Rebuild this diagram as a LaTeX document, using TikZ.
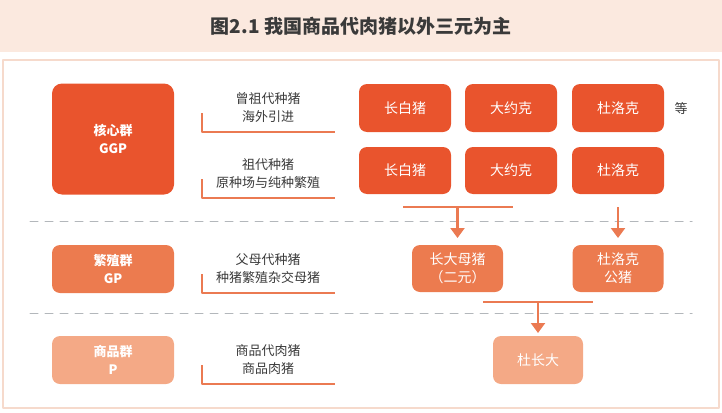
\documentclass[tikz,border=0pt]{standalone}
\usepackage{fontspec}
\setmainfont{Noto Sans CJK SC}
\usetikzlibrary{arrows.meta}
\definecolor{hexin}{HTML}{E9542D}
\definecolor{fanzhi}{HTML}{EC7B4F}
\definecolor{shangpin}{HTML}{F4A986}
\definecolor{xian}{HTML}{EB7A52}
\definecolor{xuxian}{HTML}{B3B7BB}
\definecolor{biaoti}{HTML}{FBE9DF}
\definecolor{kuang}{HTML}{F6DACC}
\definecolor{wenzi}{HTML}{3A3A3A}
\begin{document}
\begin{tikzpicture}[x=1pt, y=-1pt, line join=round, line cap=round,
	>={Triangle[width=14pt,length=10pt]},
	box/.style={rounded corners=8pt, text=white, align=center, inner sep=0pt, outer sep=0pt,
		minimum width=92pt, minimum height=48pt, font=\fontsize{14}{18}\selectfont},
	qun/.style={box, minimum width=122pt, font=\fontsize{13}{18}\selectfont\bfseries},
	shuoming/.style={align=center, text=wenzi, font=\fontsize{13}{18}\selectfont},
	link/.style={draw=xian, line width=2.2pt, line cap=butt},
	gouxian/.style={draw=xian, line width=1.6pt, line cap=butt}]
	\useasboundingbox (0,0) rectangle (722,412);
	% title and frame
	\fill[biaoti] (0,0) rectangle (722,52);
	\node[text=wenzi, font=\fontsize{19}{22}\selectfont\bfseries] (title) at (361,26) {图2.1 我国商品代肉猪以外三元为主};
	\draw[kuang, line width=1.5pt] (3,60) rectangle (719,408);
	\draw[xuxian, line width=1pt, dash pattern=on 8pt off 7pt] (30,221) -- (692,221);
	\draw[xuxian, line width=1pt, dash pattern=on 8pt off 7pt] (30,313) -- (692,313);
	% left column
	\node[qun, fill=hexin, minimum height=111pt, rounded corners=10pt] (ggp) at (113,139) {核心群\\GGP};
	\node[qun, fill=fanzhi] (gp) at (113,269) {繁殖群\\GP};
	\node[qun, fill=shangpin] (p) at (113,360) {商品群\\P};
	% notes
	\foreach \y/\t in {108/{曾祖代种猪\\海外引进}, 174/{祖代种猪\\原种场与纯种繁殖},
		269/{父母代种猪\\种猪繁殖杂交母猪}, 360/{商品代肉猪\\商品肉猪}}{
		\node[shuoming] at (268,\y) {\t};
		\draw[gouxian] (202,\y+5) |- (335,\y+24);
	}
	% breeds
	\foreach \n/\t/\x in {lb/长白猪/405, dy/大约克/511, dl/杜洛克/618}{
		\node[box, fill=hexin] (\n1) at (\x,108) {\t};
		\node[box, fill=hexin, minimum height=47pt] (\n2) at (\x,170.5) {\t};
	}
	\node[text=wenzi, font=\fontsize{13}{16}\selectfont] (deng) at (681,109) {等};
	\node[box, fill=fanzhi, minimum width=91pt, minimum height=47pt] (cd) at (457.5,268.5) {长大母猪\\（二元）};
	\node[box, fill=fanzhi, minimum width=91pt, minimum height=47pt] (dg) at (618,268.5) {杜洛克\\公猪};
	\node[box, fill=shangpin, minimum width=90pt] (dcd) at (538,360) {杜长大};
	% arrows
	\coordinate (a1) at (403,207);
	\coordinate (a2) at (513,207);
	\coordinate (am) at (cd.north |- a1);
	\coordinate (bm) at (dg.north |- a1);
	\coordinate (b1) at (483,302);
	\coordinate (b2) at (593,302);
	\coordinate (cm) at (dcd.north |- b1);
	\draw[link] (a1) -- (a2);
	\draw[link, ->, shorten >=7pt] (am) -- (cd);
	\draw[link, ->, shorten >=7pt] (bm) -- (dg);
	\draw[link] (b1) -- (b2);
	\draw[link, ->, shorten >=3pt] (cm) -- (dcd);
\end{tikzpicture}
\end{document}
